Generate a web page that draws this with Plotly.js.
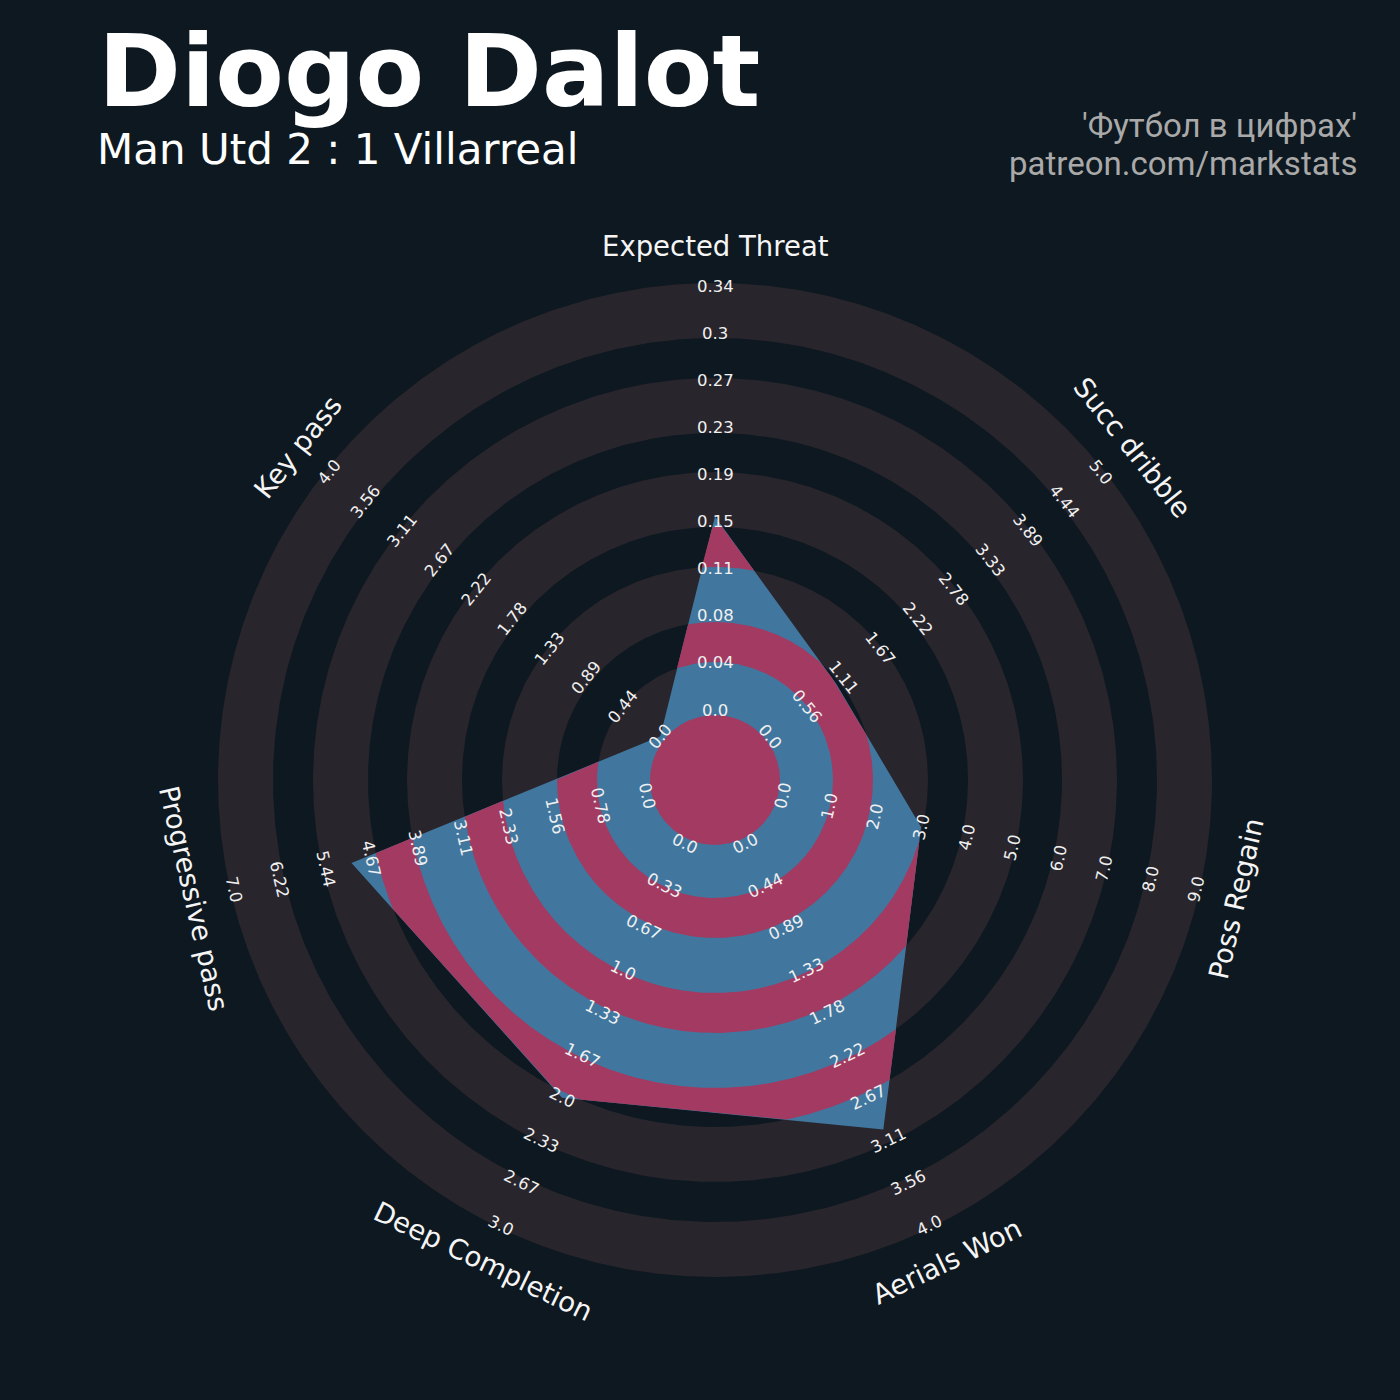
<!DOCTYPE html>
<html>
<head>
<meta charset="utf-8">
<script src="https://cdn.plot.ly/plotly-3.0.1.min.js"></script>
<style>html,body{margin:0;padding:0;background:#0e1820;}</style>
</head>
<body>
<div id="chart" style="width:1400px;height:1400px;"></div>
<script>
// ---------------- data ----------------
const params = ['Expected Threat', 'Succ dribble', 'Poss Regain', 'Aerials Won', 'Deep Completion', 'Progressive pass', 'Key pass'];
const values = [0.156, 1, 3, 3, 2, 5, 0];
const lowValues = [0, 0, 0, 0, 0, 0, 0];
const highValues = [0.342, 5, 9, 4, 3, 7, 4];
const ringLabelsXT = ['0.0', '0.04', '0.08', '0.11', '0.15', '0.19', '0.23', '0.27', '0.3', '0.34'];
const ringLabelsDribble = ['0.0', '0.56', '1.11', '1.67', '2.22', '2.78', '3.33', '3.89', '4.44', '5.0'];
const ringLabelsRegain = ['0.0', '1.0', '2.0', '3.0', '4.0', '5.0', '6.0', '7.0', '8.0', '9.0'];
const ringLabelsAerial = ['0.0', '0.44', '0.89', '1.33', '1.78', '2.22', '2.67', '3.11', '3.56', '4.0'];
const ringLabelsDeep = ['0.0', '0.33', '0.67', '1.0', '1.33', '1.67', '2.0', '2.33', '2.67', '3.0'];
const ringLabelsProg = ['0.0', '0.78', '1.56', '2.33', '3.11', '3.89', '4.67', '5.44', '6.22', '7.0'];
const ringLabelsKey = ['0.0', '0.44', '0.89', '1.33', '1.78', '2.22', '2.67', '3.11', '3.56', '4.0'];
const ringLabels = [ringLabelsXT, ringLabelsDribble, ringLabelsRegain, ringLabelsAerial, ringLabelsDeep, ringLabelsProg, ringLabelsKey];
const titleText = 'Diogo Dalot';
const subtitleText = 'Man Utd 2 : 1 Villarreal';
const creditLine1 = "'Футбол в цифрах'";
const creditLine2 = 'patreon.com/markstats';

// ---------------- geometry / style ----------------
const BG = '#0e1820', GREY = '#28252c', PINK = '#a33a61', BLUE = '#41779f';
const R0 = 70, SPAN = 424;            // radius of value=low, radial span to value=high (px)
const ringEdges = [497, 442, 402, 347, 308, 253, 213, 158, 118, 65];
const W = 1400, CX = 715, CY = 780;
const nAx = params.length;
const angDeg = params.map((p, i) => 90 - i * 360 / nAx);
const rad = d => d * Math.PI / 180;
const pt = (r, deg) => [r * Math.cos(rad(deg)), r * Math.sin(rad(deg))];
const NOLINE = {width: 0, color: 'rgba(0,0,0,0)'};

const traces = [];
const NS = 1800, STEP = 360 / NS;
ringEdges.forEach((r, i) => {
  const xs = [], ys = [];
  for (let j = 0; j <= 720; j++) { const p = pt(r, j * 0.5); xs.push(p[0]); ys.push(p[1]); }
  traces.push({type: 'scatter', mode: 'lines', x: xs, y: ys, fill: 'toself',
    fillcolor: i % 2 === 0 ? GREY : BG, line: NOLINE, hoverinfo: 'skip'});
});

// radar polygon from values
const verts = values.map((v, i) => pt(R0 + SPAN * (v - lowValues[i]) / (highValues[i] - lowValues[i]), angDeg[i]));
traces.push({type: 'scatter', mode: 'lines', x: verts.map(p => p[0]).concat([verts[0][0]]),
  y: verts.map(p => p[1]).concat([verts[0][1]]), fill: 'toself', fillcolor: BLUE,
  line: NOLINE, hoverinfo: 'skip'});

// polygon radius along a ray
function polyR(deg) {
  const d = [Math.cos(rad(deg)), Math.sin(rad(deg))];
  const cr = (a, b) => a[0] * b[1] - a[1] * b[0];
  let best = 0;
  for (let i = 0; i < verts.length; i++) {
    const P = verts[i], Q = verts[(i + 1) % verts.length];
    const E = [Q[0] - P[0], Q[1] - P[1]];
    const den = cr(d, E);
    if (Math.abs(den) < 1e-12) continue;
    const t = cr(P, E) / den, s = cr(P, d) / den;
    if (s >= -1e-9 && s <= 1 + 1e-9 && t > 0) best = Math.max(best, t);
  }
  return best;
}
// dark bands inside polygon become pink
const darkBands = [];
for (let i = 1; i < ringEdges.length; i += 2) {
  darkBands.push([i + 1 < ringEdges.length ? ringEdges[i + 1] : 0, ringEdges[i]]);
}
function addPiece(xs, ys) {
  traces.push({type: 'scatter', mode: 'lines', x: xs, y: ys, fill: 'toself', fillcolor: PINK,
    line: NOLINE, hoverinfo: 'skip'});
}
darkBands.forEach(([r1, r2]) => {
  const Rs = [];
  for (let j = 0; j < NS; j++) Rs.push(polyR(j * STEP));
  const inside = Rs.map(R => R > r1 + 0.01);
  if (inside.every(b => b)) {
    const xs = [], ys = [];
    for (let j = 0; j <= NS; j++) {
      const a = (j % NS) * STEP; const p = pt(Math.min(r2, Rs[j % NS]), a); xs.push(p[0]); ys.push(p[1]);
    }
    if (r1 > 0) {
      for (let j = NS; j >= 0; j--) { const p = pt(r1, (j % NS) * STEP); xs.push(p[0]); ys.push(p[1]); }
    }
    addPiece(xs, ys);
    return;
  }
  if (!inside.some(b => b)) return;
  const start = inside.indexOf(false);
  let j = 0;
  while (j < NS) {
    const idx = (start + j) % NS;
    if (!inside[idx]) { j++; continue; }
    let k = j;
    while (k < NS && inside[(start + k) % NS]) k++;
    // run from j to k-1, extend by one sample on each side
    const a0 = (start + j - 1) * STEP, a1 = (start + k) * STEP;
    const xs = [], ys = [];
    for (let m = j - 1; m <= k; m++) {
      const a = (start + m) * STEP;
      const R = Rs[((start + m) % NS + NS) % NS];
      const p = pt(Math.max(r1, Math.min(r2, R)), a); xs.push(p[0]); ys.push(p[1]);
    }
    for (let m = k; m >= j - 1; m--) { const p = pt(r1, (start + m) * STEP); xs.push(p[0]); ys.push(p[1]); }
    addPiece(xs, ys);
    j = k;
  }
});

// ---------------- text ----------------
const annotations = [];
function rotFor(deg) {
  let r = deg - 90;
  while (r < -90) r += 180;
  while (r > 90) r -= 180;
  return -r;
}
ringLabels.forEach((labs, i) => {
  labs.forEach((t, k) => {
    const p = pt(R0 + SPAN * k / (labs.length - 1), angDeg[i]);
    annotations.push({x: p[0], y: p[1], xref: 'x', yref: 'y', text: t, showarrow: false,
      textangle: rotFor(angDeg[i]), xanchor: 'center', yanchor: 'middle',
      font: {family: 'DejaVu Sans', size: 16.5, color: '#f0f0f0'}});
  });
});
params.forEach((p, i) => {
  const q = pt(534, angDeg[i]);
  annotations.push({x: q[0], y: q[1], xref: 'x', yref: 'y', text: p, showarrow: false,
    textangle: rotFor(angDeg[i]), xanchor: 'center', yanchor: 'middle',
    font: {family: 'DejaVu Sans', size: 27.5, color: '#f5f5f5'}});
});
const px = v => v / W, py = v => 1 - v / W;
annotations.push({xref: 'paper', yref: 'paper', x: px(96), y: py(72), xanchor: 'left', yanchor: 'middle',
  text: '<b>' + titleText + '</b>', showarrow: false, font: {family: 'DejaVu Sans', size: 100, color: '#ffffff'}});
annotations.push({xref: 'paper', yref: 'paper', x: px(95), y: py(150), xanchor: 'left', yanchor: 'middle',
  text: subtitleText, showarrow: false, font: {family: 'DejaVu Sans', size: 42, color: '#ffffff'}});
annotations.push({xref: 'paper', yref: 'paper', x: px(1359), y: py(126), xanchor: 'right', yanchor: 'middle',
  text: creditLine1, showarrow: false, font: {family: 'Roboto', size: 33, color: '#a9a9a9'}});
annotations.push({xref: 'paper', yref: 'paper', x: px(1359), y: py(163), xanchor: 'right', yanchor: 'middle',
  text: creditLine2, showarrow: false, font: {family: 'Roboto', size: 33, color: '#a9a9a9'}});

const layout = {
  width: W, height: W, margin: {l: 0, r: 0, t: 0, b: 0},
  paper_bgcolor: BG, plot_bgcolor: BG, showlegend: false, hovermode: false,
  xaxis: {range: [-CX, W - CX], visible: false, fixedrange: true},
  yaxis: {range: [CY - W, CY], visible: false, fixedrange: true},
  annotations: annotations
};
Plotly.newPlot('chart', traces, layout, {displayModeBar: false, staticPlot: true});
</script>
</body>
</html>
